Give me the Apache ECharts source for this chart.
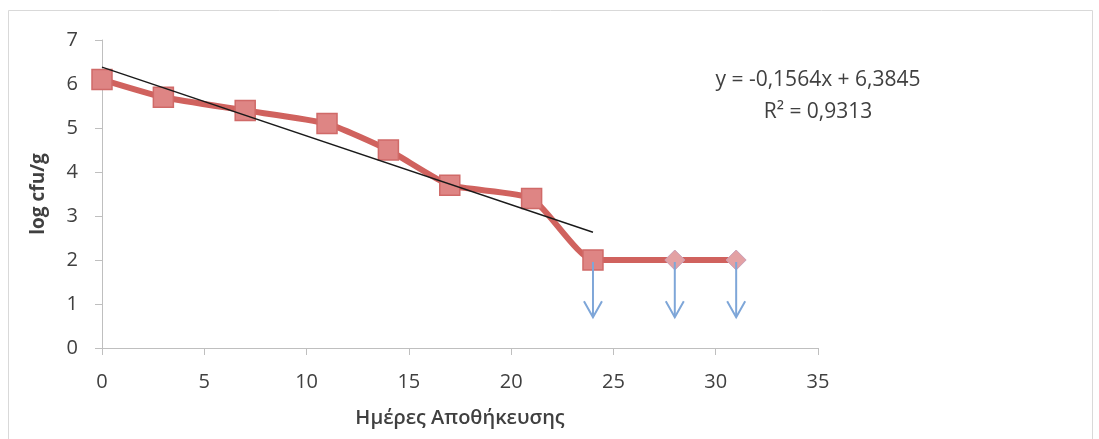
<!DOCTYPE html>
<html>
<head>
<meta charset="utf-8">
<script src="https://cdn.jsdelivr.net/npm/echarts@6/dist/echarts.min.js"></script>
<style>html,body{margin:0;padding:0;background:#fff;}#c{width:1099px;height:439px;}</style>
</head>
<body>
<div id="c"></div>
<script>
// Data
const days = [0, 3, 7, 11, 14, 17, 21, 24, 28, 31];
const logCfu = [6.1, 5.7, 5.4, 5.1, 4.5, 3.7, 3.4, 2.0, 2.0, 2.0];
const markerShapes = ['rect','rect','rect','rect','rect','rect','rect','rect','diamond','diamond'];
const trendSlope = -0.1564;
const trendIntercept = 6.3845;
const trendRange = [0, 24];
const arrowDays = [24, 28, 31];
const arrowFrom = 2.0;
const arrowTo = 0.7;
const equationText = 'y = -0,1564x + 6,3845';
const r2Text = 'R² = 0,9313';
const xTitle = 'Ημέρες Αποθήκευσης';
const yTitle = 'log cfu/g';

const FONT = "'Open Sans', 'Noto Sans', sans-serif";
const chart = echarts.init(document.getElementById('c'), null, {renderer: 'canvas'});

const lineData = days.map((d, i) => ({
  value: [d, logCfu[i]],
  symbol: markerShapes[i],
  symbolSize: markerShapes[i] === 'rect' ? 20 : 20,
  itemStyle: markerShapes[i] === 'rect' ? undefined : {color: '#e3a1a4', borderColor: '#c9a0b8', borderWidth: 1}
}));
const trendData = trendRange.map(x => [x, trendSlope * x + trendIntercept]);
const arrowData = arrowDays.map(d => [d, arrowFrom, arrowTo]);

chart.setOption({
  animation: false,
  backgroundColor: '#ffffff',
  graphic: [
    {type: 'rect', shape: {x: 8.5, y: 10.5, width: 1084, height: 440}, style: {fill: 'none', stroke: '#d9d9d9', lineWidth: 1}, z: -10},
    {type: 'text', x: 818, y: 80, style: {text: equationText, font: '21px ' + FONT, fill: '#404040', textAlign: 'center', textVerticalAlign: 'middle'}},
    {type: 'text', x: 818, y: 112, style: {text: r2Text, font: '21px ' + FONT, fill: '#404040', textAlign: 'center', textVerticalAlign: 'middle'}}
  ],
  grid: {left: 102, top: 40, right: 281, bottom: 91},
  xAxis: {
    type: 'value', min: 0, max: 35, interval: 5,
    name: xTitle, nameLocation: 'middle', nameGap: 60,
    nameTextStyle: {fontFamily: FONT, fontSize: 20, fontWeight: 600, color: '#404040'},
    axisLine: {show: true, lineStyle: {color: '#bfbfbf', width: 1}},
    axisTick: {show: true, length: 7, lineStyle: {color: '#bfbfbf'}},
    axisLabel: {fontFamily: FONT, fontSize: 20, color: '#404040', margin: 24},
    splitLine: {show: false}
  },
  yAxis: {
    type: 'value', min: 0, max: 7, interval: 1,
    name: yTitle, nameLocation: 'middle', nameGap: 54,
    nameTextStyle: {fontFamily: FONT, fontSize: 19, fontWeight: 'bold', color: '#404040'},
    axisLine: {show: true, lineStyle: {color: '#bfbfbf', width: 1}},
    axisTick: {show: true, length: 7, lineStyle: {color: '#bfbfbf'}},
    axisLabel: {fontFamily: FONT, fontSize: 20, color: '#404040', margin: 24},
    splitLine: {show: false}
  },
  series: [
    {
      type: 'line', data: lineData, smooth: 0.18, z: 2,
      lineStyle: {color: '#d0625e', width: 6},
      itemStyle: {color: '#de8584', borderColor: '#d06a68', borderWidth: 1.5}
    },
    {
      type: 'line', data: trendData, symbol: 'none', z: 4,
      lineStyle: {color: '#1a1a1a', width: 1.4}
    },
    {
      type: 'custom', z: 5, data: arrowData,
      renderItem: function (params, api) {
        const top = api.coord([api.value(0), api.value(1)]);
        const tip = api.coord([api.value(0), api.value(2)]);
        const st = {stroke: '#7ea6d8', lineWidth: 2, fill: 'none'};
        return {
          type: 'group',
          children: [
            {type: 'line', shape: {x1: top[0], y1: top[1] + 2, x2: tip[0], y2: tip[1]}, style: st},
            {type: 'polyline', shape: {points: [[tip[0] - 9, tip[1] - 16], [tip[0], tip[1]], [tip[0] + 9, tip[1] - 16]]}, style: st}
          ]
        };
      }
    }
  ]
});
</script>
</body>
</html>
